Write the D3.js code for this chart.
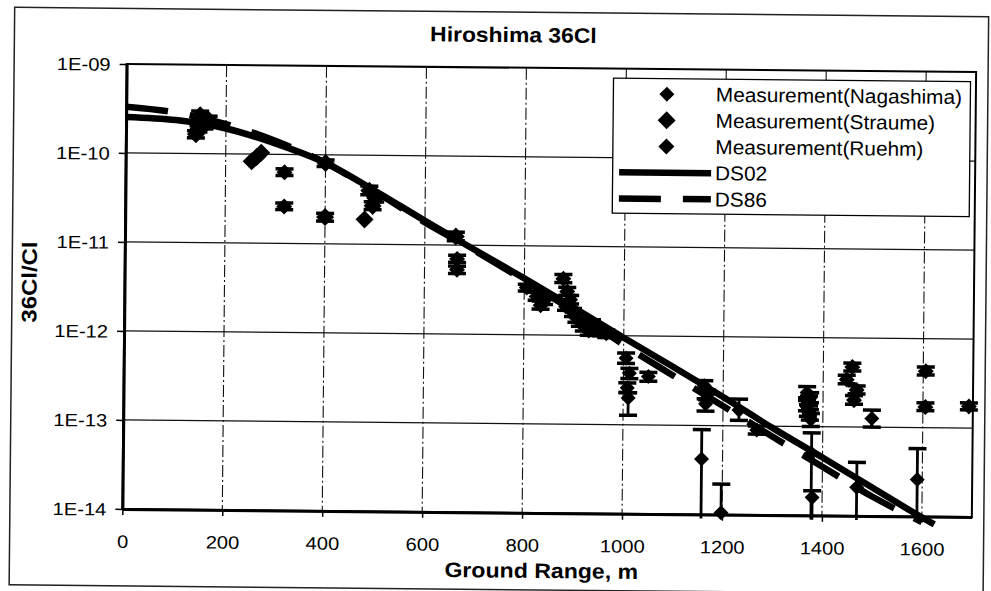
<!DOCTYPE html>
<html>
<head>
<meta charset="utf-8">
<script src="https://cdn.jsdelivr.net/npm/d3@7"></script>
<style>
  html, body { margin: 0; padding: 0; background: #fff; }
  svg { display: block; }
  text { font-family: "Liberation Sans", Arial, sans-serif; fill: #000; }
</style>
</head>
<body>
<svg id="chart" width="991" height="591"></svg>
<script>
// Ground range (m) at which the calculated 36Cl/Cl curves are tabulated
const curveRange = [0, 100, 200, 300, 400, 500, 600, 700, 800, 900, 1000,
                    1100, 1200, 1300, 1400, 1500, 1600, 1625];
const ds02 = [2.54e-10, 2.37e-10, 1.93e-10, 1.32e-10, 8.1e-11, 3.98e-11, 1.86e-11,
              8.9e-12, 4.3e-12, 2.04e-12, 9.5e-13, 4.5e-13, 2.1e-13, 9.5e-14,
              4.5e-14, 2.1e-14, 9.8e-15, 8.2e-15];
const ds86 = [3.31e-10, 2.88e-10, 2.16e-10, 1.41e-10, 8.13e-11, 3.89e-11, 1.78e-11,
              8.7e-12, 4.07e-12, 1.86e-12, 7.9e-13, 3.6e-13, 1.66e-13, 7.59e-14,
              3.55e-14, 1.66e-14, 8.7e-15, null];

// Measurements: [ground range (m), 36Cl/Cl, lower error bound, upper error bound]
const nagashima = [
  [898, 1.8e-12, 1.62e-12, 2.0e-12],
  [905, 1.55e-12, 1.4e-12, 1.72e-12],
  [912, 1.4e-12, 1.26e-12, 1.55e-12],
  [920, 1.25e-12, 1.12e-12, 1.4e-12],
  [930, 1.12e-12, 1.0e-12, 1.25e-12],
  [936, 1.35e-12, 1.22e-12, 1.5e-12],
  [942, 1.2e-12, 1.08e-12, 1.33e-12],
  [954, 1.1e-12, 0.99e-12, 1.22e-12],
  [965, 1.05e-12, 0.95e-12, 1.16e-12],
  [1005, 5.6e-13, 4.9e-13, 6.4e-13],
  [1012, 3.8e-13, 3.3e-13, 4.3e-13],
  [1008, 2.6e-13, 2.3e-13, 2.95e-13],
  [1010, 2.0e-13, 1.28e-13, 2.3e-13],
  [1050, 3.5e-13, 3.1e-13, 3.9e-13],
  [1162, 2.8e-13, 2.5e-13, 3.2e-13],
  [1168, 2.2e-13, 1.95e-13, 2.5e-13],
  [1165, 1.75e-13, 1.45e-13, 2.0e-13],
  [1158, 4.2e-14, 9e-15, 9e-14],
  [1198, 1.05e-14, 9e-15, 2.2e-14],
  [1232, 1.5e-13, 1.15e-13, 2.0e-13],
  [1268, 9.0e-14, 8.1e-14, 1.0e-13],
  [1368, 2.4e-13, 2.1e-13, 2.8e-13],
  [1374, 2.1e-13, 1.85e-13, 2.4e-13],
  [1372, 1.9e-13, 1.7e-13, 2.2e-13],
  [1368, 1.7e-13, 1.5e-13, 1.95e-13],
  [1370, 1.5e-13, 1.3e-13, 1.75e-13],
  [1374, 1.35e-13, 1.18e-13, 1.55e-13],
  [1376, 1.2e-13, 1.0e-13, 1.4e-13],
  [1378, 5.0e-14, 9e-15, 8.5e-14],
  [1380, 1.6e-14, 9e-15, 1.9e-14],
  [1469, 2.1e-14, 9e-15, 4.0e-14],
  [1498, 1.25e-13, 1.0e-13, 1.55e-13],
  [1590, 2.6e-14, 9e-15, 5.8e-14]
];
const straume = [
  [148, 2.7e-10, 2.45e-10, 3.0e-10],
  [140, 1.65e-10, 1.5e-10, 1.8e-10],
  [157, 2.1e-10, 1.9e-10, 2.3e-10],
  [165, 2.4e-10, 2.2e-10, 2.65e-10],
  [145, 1.9e-10, 1.75e-10, 2.05e-10],
  [252, 8.3e-11, null, null],
  [262, 9.3e-11, null, null],
  [271, 1.04e-10, null, null],
  [400, 8.1e-11, 7.4e-11, 8.8e-11],
  [400, 2.0e-11, 1.8e-11, 2.2e-11],
  [488, 4.0e-11, 3.6e-11, 4.5e-11],
  [495, 2.7e-11, 2.45e-11, 3.0e-11],
  [500, 3.3e-11, 3.0e-11, 3.6e-11],
  [479, 1.9e-11, null, null],
  [662, 1.25e-11, 1.12e-11, 1.4e-11]
];
const ruehm = [
  [318, 6.3e-11, 5.8e-11, 6.9e-11],
  [318, 2.6e-11, 2.4e-11, 2.85e-11],
  [665, 7.0e-12, 6.4e-12, 7.7e-12],
  [665, 5.3e-12, 4.8e-12, 5.8e-12],
  [805, 3.4e-12, 3.1e-12, 3.7e-12],
  [825, 2.7e-12, 2.45e-12, 3.0e-12],
  [833, 2.15e-12, 1.95e-12, 2.4e-12],
  [840, 2.45e-12, 2.2e-12, 2.7e-12],
  [878, 4.3e-12, 3.9e-12, 4.8e-12],
  [886, 3.1e-12, 2.8e-12, 3.45e-12],
  [892, 2.5e-12, 2.25e-12, 2.8e-12],
  [884, 2.1e-12, 1.9e-12, 2.35e-12],
  [1447, 3.4e-13, 3.05e-13, 3.8e-13],
  [1458, 4.7e-13, 4.25e-13, 5.2e-13],
  [1467, 2.6e-13, 2.35e-13, 2.9e-13],
  [1462, 2.0e-13, 1.8e-13, 2.25e-13],
  [1605, 4.3e-13, 3.9e-13, 4.8e-13],
  [1605, 1.7e-13, 1.55e-13, 1.9e-13],
  [1692, 1.75e-13, 1.6e-13, 1.92e-13]
];

const legendLabels = ["Measurement(Nagashima)", "Measurement(Straume)",
                      "Measurement(Ruehm)", "DS02", "DS86"];
const xTicks = [0, 200, 400, 600, 800, 1000, 1200, 1400, 1600];
const xTickLabels = ["0", "200", "400", "600", "800", "1000", "1200", "1400", "1600"];
const yTicks = [1e-9, 1e-10, 1e-11, 1e-12, 1e-13, 1e-14];
const yTickLabels = ["1E-09", "1E-10", "1E-11", "1E-12", "1E-13", "1E-14"];

// ---- layout ----
const plot = { left: 124.5, right: 974, top: 68, bottom: 513 };
const svg = d3.select("#chart");
// the sheet sits very slightly skewed on the page
const root = svg.append("g").attr("transform", "rotate(0.55,548,290)");

const x = d3.scaleLinear().domain([0, 1700]).range([plot.left, plot.right]);
const y = d3.scaleLog().domain([1e-14, 1e-9]).range([plot.bottom, plot.top]);

// chart-area frame
root.append("rect")
  .attr("x", 12).attr("y", 12.5).attr("width", 974).attr("height", 577.5)
  .attr("fill", "#fff").attr("stroke", "#222").attr("stroke-width", 1.5);

// plot area
root.append("rect")
  .attr("x", plot.left).attr("y", plot.top)
  .attr("width", plot.right - plot.left).attr("height", plot.bottom - plot.top)
  .attr("fill", "#fff").attr("stroke", "#000").attr("stroke-width", 2);

// gridlines
const grid = root.append("g");
grid.selectAll("line.h").data(yTicks.slice(1, -1)).join("line")
  .attr("class", "h")
  .attr("x1", plot.left).attr("x2", plot.right)
  .attr("y1", d => y(d)).attr("y2", d => y(d))
  .attr("stroke", "#111").attr("stroke-width", 1.2);
grid.selectAll("line.v").data(xTicks.filter(d => d > 0)).join("line")
  .attr("class", "v")
  .attr("x1", d => x(d)).attr("x2", d => x(d))
  .attr("y1", plot.top).attr("y2", plot.bottom)
  .attr("stroke", "#111").attr("stroke-width", 1.1)
  .attr("stroke-dasharray", "12,3,2,3");

// axes
const yAxis = d3.axisLeft(y)
  .tickValues(yTicks)
  .tickFormat(d => yTickLabels[yTicks.indexOf(d)])
  .tickSize(7).tickSizeOuter(0);
const gy = root.append("g")
  .attr("transform", `translate(${plot.left},0)`)
  .call(yAxis);
gy.attr("font-size", 18).attr("font-family", "'Liberation Sans', Arial, sans-serif");
gy.select(".domain").attr("stroke", "#000").attr("stroke-width", 3);
gy.selectAll(".tick line").attr("stroke", "#000").attr("stroke-width", 1.5);
gy.selectAll(".tick text")
  .attr("x", null).attr("dy", "0.35em").attr("fill", "#000")
  .attr("text-anchor", "end")
  .attr("transform", "translate(-16,0) scale(1.12,1)");

const xAxis = d3.axisBottom(x)
  .tickValues(xTicks)
  .tickFormat(d => xTickLabels[xTicks.indexOf(d)])
  .tickSize(6).tickSizeOuter(0).tickPadding(20);
const gx = root.append("g")
  .attr("transform", `translate(0,${plot.bottom})`)
  .call(xAxis);
gx.attr("font-size", 18).attr("font-family", "'Liberation Sans', Arial, sans-serif");
gx.select(".domain").attr("stroke", "#000").attr("stroke-width", 3);
gx.selectAll(".tick line").attr("stroke", "#000").attr("stroke-width", 1.5);
gx.selectAll(".tick text").attr("fill", "#000").attr("transform", "scale(1.12,1)");

// calculated curves
const line = d3.line()
  .defined(d => d[1] != null)
  .x(d => x(d[0])).y(d => y(d[1]))
  .curve(d3.curveMonotoneX);
root.append("path")
  .datum(curveRange.map((r, i) => [r, ds02[i]]))
  .attr("d", line).attr("fill", "none")
  .attr("stroke", "#000").attr("stroke-width", 6.5);
root.append("path")
  .datum(curveRange.map((r, i) => [r, ds86[i]]))
  .attr("d", line).attr("fill", "none")
  .attr("stroke", "#000").attr("stroke-width", 6.5)
  .attr("stroke-dasharray", "42,22");

// measurements with error bars
const diamond = r => `M0,${-r}L${r},0L0,${r}L${-r},0Z`;
const markerSizes = [7.5, 9, 8];
const series = [
  { data: nagashima, r: markerSizes[0] },
  { data: straume, r: markerSizes[1] },
  { data: ruehm, r: markerSizes[2] }
];
const yMin = y.domain()[0];
series.forEach(s => {
  const g = root.append("g");
  const withErr = s.data.filter(d => d[2] != null);
  g.selectAll("line.stem").data(withErr).join("line")
    .attr("x1", d => x(d[0])).attr("x2", d => x(d[0]))
    .attr("y1", d => y(d[2])).attr("y2", d => y(d[3]))
    .attr("stroke", "#000").attr("stroke-width", 2.8);
  g.selectAll("line.capHi").data(withErr).join("line")
    .attr("x1", d => x(d[0]) - 9).attr("x2", d => x(d[0]) + 9)
    .attr("y1", d => y(d[3])).attr("y2", d => y(d[3]))
    .attr("stroke", "#000").attr("stroke-width", 3.5);
  g.selectAll("line.capLo").data(withErr.filter(d => d[2] >= yMin)).join("line")
    .attr("x1", d => x(d[0]) - 9).attr("x2", d => x(d[0]) + 9)
    .attr("y1", d => y(d[2])).attr("y2", d => y(d[2]))
    .attr("stroke", "#000").attr("stroke-width", 3.5);
  g.selectAll("path").data(s.data).join("path")
    .attr("d", diamond(s.r))
    .attr("transform", d => `translate(${x(d[0])},${y(d[1])})`)
    .attr("fill", "#000");
});

// legend
const lg = root.append("g");
lg.append("rect")
  .attr("x", 611.5).attr("y", 77.5).attr("width", 357).attr("height", 135)
  .attr("fill", "#fff").attr("stroke", "#000").attr("stroke-width", 1.3);
const rowY = i => 93 + i * 26.2;
legendLabels.forEach((label, i) => {
  if (i < 3) {
    lg.append("path").attr("d", diamond(markerSizes[i]))
      .attr("transform", `translate(665,${rowY(i)})`).attr("fill", "#000");
  } else {
    lg.append("line")
      .attr("x1", 618).attr("x2", 710)
      .attr("y1", rowY(i)).attr("y2", rowY(i))
      .attr("stroke", "#000").attr("stroke-width", 6.5)
      .attr("stroke-dasharray", i === 4 ? "42,22" : null);
  }
  lg.append("text")
    .attr("transform", `translate(714,${rowY(i)}) scale(1.04,1)`)
    .attr("dy", "0.35em").attr("font-size", 20)
    .text(label);
});

// titles
root.append("text")
  .attr("transform", "translate(511,42.5) scale(1.09,1)")
  .attr("text-anchor", "middle").attr("font-weight", "bold").attr("font-size", 21)
  .text("Hiroshima 36Cl");
root.append("text")
  .attr("transform", "translate(544,578) scale(1.1,1)")
  .attr("text-anchor", "middle").attr("font-weight", "bold").attr("font-size", 21)
  .text("Ground Range, m");
root.append("text")
  .attr("transform", "translate(36.5,287) rotate(-90) scale(1.14,1)")
  .attr("text-anchor", "middle").attr("font-weight", "bold").attr("font-size", 21)
  .text("36Cl/Cl");
</script>
</body>
</html>
